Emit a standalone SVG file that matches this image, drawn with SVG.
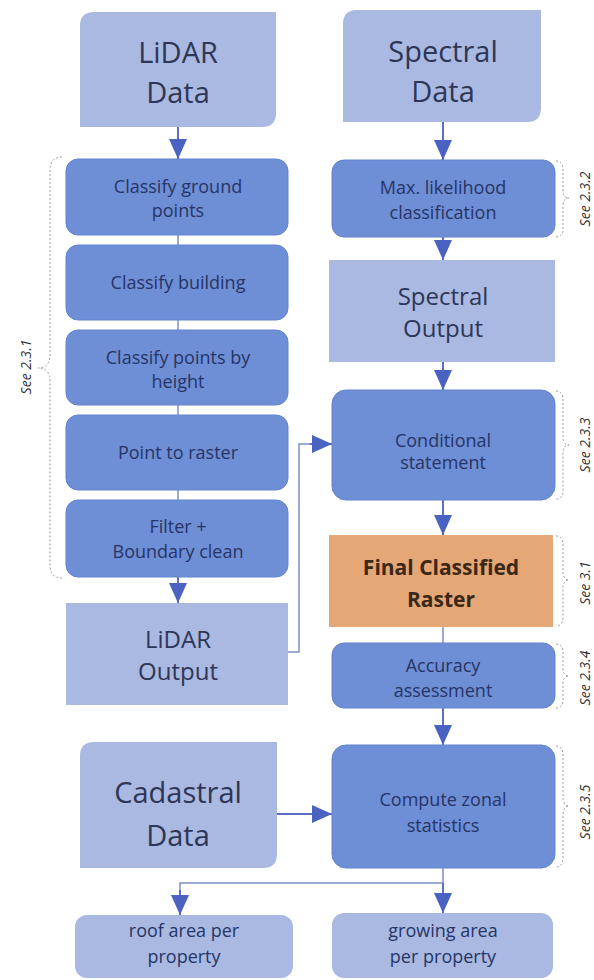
<svg xmlns="http://www.w3.org/2000/svg" width="594" height="980" viewBox="0 0 594 980">
<defs>
<marker id="ah" viewBox="0 0 20 18" refX="20" refY="9" markerWidth="20" markerHeight="18" markerUnits="userSpaceOnUse" orient="auto">
<path d="M0,0 L20,9 L0,18 Z" fill="#4a62c2"/>
</marker>
<style>
.light{fill:#a9b9e2;}
.mid{fill:#6e8ed6;stroke:#6384d0;stroke-width:1;}
.orange{fill:#e6a776;}
.big{font-family:"Open Sans","Noto Sans",sans-serif;font-size:29px;fill:#2e3656;text-anchor:middle;}
.med{font-family:"Open Sans","Noto Sans",sans-serif;font-size:24px;fill:#2e3656;text-anchor:middle;}
.sm{font-family:"Open Sans","Noto Sans",sans-serif;font-size:18px;fill:#263566;text-anchor:middle;}
.bold{font-family:"Open Sans","Noto Sans",sans-serif;font-size:21px;font-weight:bold;fill:#3a2818;text-anchor:middle;}
.see{font-family:"Open Sans","Noto Sans",sans-serif;font-size:14px;font-style:italic;fill:#333;text-anchor:middle;}
.arrow{fill:none;stroke:#5b6fc2;stroke-width:2;marker-end:url(#ah);}
.link{fill:none;stroke:#7d8fc8;stroke-width:1.5;}
.brace{fill:none;stroke:#9a9a9a;stroke-width:1;stroke-dasharray:2 2;}
</style>
</defs>
<rect width="594" height="980" fill="#ffffff"/>

<g id="connectors">
<line class="arrow" x1="178" y1="127" x2="178" y2="159"/>
<line class="link" x1="178" y1="235" x2="178" y2="245"/>
<line class="link" x1="178" y1="320" x2="178" y2="330"/>
<line class="link" x1="178" y1="405" x2="178" y2="415"/>
<line class="link" x1="178" y1="490" x2="178" y2="500"/>
<line class="arrow" x1="178" y1="577" x2="178" y2="603"/>
<line class="arrow" x1="443" y1="122" x2="443" y2="160"/>
<line class="arrow" x1="443" y1="237" x2="443" y2="260"/>
<line class="arrow" x1="443" y1="362" x2="443" y2="390"/>
<line class="arrow" x1="443" y1="500" x2="443" y2="535"/>
<line class="link" x1="443" y1="627" x2="443" y2="643"/>
<line class="arrow" x1="443" y1="708" x2="443" y2="745"/>
<path class="link" d="M288 652 H299 V444 H318"/>
<line class="arrow" x1="310" y1="444" x2="332" y2="444"/>
<line class="arrow" x1="277" y1="814" x2="332" y2="814"/>
<path class="link" d="M443 868 V883 H180 V900"/>
<line class="arrow" x1="180" y1="890" x2="180" y2="915"/>
<line class="arrow" x1="443" y1="883" x2="443" y2="913"/>
</g>

<g id="lidar-data">
<path class="light" d="M94 12 H276 V113 Q276 127 262 127 H80 V26 Q80 12 94 12 Z"/>
<text class="big" x="178" y="63">LiDAR</text>
<text class="big" x="178" y="103">Data</text>
</g>

<g id="spectral-data">
<path class="light" d="M357 10 H541 V108 Q541 122 527 122 H343 V24 Q343 10 357 10 Z"/>
<text class="big" x="443" y="62">Spectral</text>
<text class="big" x="443" y="102">Data</text>
</g>

<g id="classify-ground">
<rect class="mid" x="66" y="159" width="222" height="76" rx="12"/>
<text class="sm" x="178" y="193">Classify ground</text>
<text class="sm" x="178" y="217">points</text>
</g>
<g id="classify-building">
<rect class="mid" x="66" y="245" width="222" height="75" rx="12"/>
<text class="sm" x="178" y="289">Classify building</text>
</g>
<g id="classify-height">
<rect class="mid" x="66" y="330" width="222" height="75" rx="12"/>
<text class="sm" x="178" y="364">Classify points by</text>
<text class="sm" x="178" y="388">height</text>
</g>
<g id="point-raster">
<rect class="mid" x="66" y="415" width="222" height="75" rx="12"/>
<text class="sm" x="178" y="459">Point to raster</text>
</g>
<g id="filter">
<rect class="mid" x="66" y="500" width="222" height="77" rx="12"/>
<text class="sm" x="178" y="533">Filter +</text>
<text class="sm" x="178" y="558">Boundary clean</text>
</g>
<g id="lidar-output">
<rect class="light" x="66" y="603" width="222" height="102"/>
<text class="med" x="178" y="648">LiDAR</text>
<text class="med" x="178" y="680">Output</text>
</g>

<g id="max-likelihood">
<rect class="mid" x="332" y="160" width="223" height="77" rx="12"/>
<text class="sm" x="443" y="194">Max. likelihood</text>
<text class="sm" x="443" y="219">classification</text>
</g>
<g id="spectral-output">
<rect class="light" x="329" y="260" width="226" height="102"/>
<text class="med" x="443" y="305">Spectral</text>
<text class="med" x="443" y="337">Output</text>
</g>
<g id="conditional">
<rect class="mid" x="332" y="390" width="223" height="110" rx="14"/>
<text class="sm" x="443" y="447">Conditional</text>
<text class="sm" x="443" y="469">statement</text>
</g>
<g id="final-raster">
<rect class="orange" x="329" y="535" width="224" height="92"/>
<text class="bold" x="441" y="575">Final Classified</text>
<text class="bold" x="441" y="607">Raster</text>
</g>
<g id="accuracy">
<rect class="mid" x="332" y="643" width="223" height="65" rx="12"/>
<text class="sm" x="443" y="672">Accuracy</text>
<text class="sm" x="443" y="697">assessment</text>
</g>

<g id="cadastral-data">
<path class="light" d="M94 742 H277 V854 Q277 868 263 868 H80 V756 Q80 742 94 742 Z"/>
<text class="big" x="178" y="803">Cadastral</text>
<text class="big" x="178" y="846">Data</text>
</g>
<g id="zonal-stats">
<rect class="mid" x="332" y="745" width="223" height="123" rx="14"/>
<text class="sm" x="443" y="806">Compute zonal</text>
<text class="sm" x="443" y="832">statistics</text>
</g>

<g id="roof-area">
<rect class="light" x="75" y="915" width="218" height="63" rx="12"/>
<text class="sm" x="184" y="937">roof area per</text>
<text class="sm" x="184" y="963">property</text>
</g>
<g id="growing-area">
<rect class="light" x="332" y="913" width="221" height="65" rx="12"/>
<text class="sm" x="443" y="937">growing area</text>
<text class="sm" x="443" y="963">per property</text>
</g>

<g id="annotations">
<path class="brace" d="M62 157 Q50 157 50 170 V355 Q50 368 38 368 Q50 368 50 381 V565 Q50 578 62 578"/>
<text class="see" transform="translate(31 367) rotate(-90)">See 2.3.1</text>
<path class="brace" d="M556 161 Q563 161 563 169 V190 Q563 198 569 198 Q563 198 563 206 V229 Q563 237 556 237"/>
<text class="see" transform="translate(590 199) rotate(-90)">See 2.3.2</text>
<path class="brace" d="M556 391 Q563 391 563 400 V436 Q563 445 569 445 Q563 445 563 454 V490 Q563 499 556 499"/>
<text class="see" transform="translate(590 445) rotate(-90)">See 2.3.3</text>
<path class="brace" d="M556 536 Q563 536 563 545 V571 Q563 580 569 580 Q563 580 563 589 V617 Q563 626 556 626"/>
<text class="see" transform="translate(590 583) rotate(-90)">See 3.1</text>
<path class="brace" d="M556 644 Q563 644 563 652 V668 Q563 676 569 676 Q563 676 563 684 V700 Q563 708 556 708"/>
<text class="see" transform="translate(590 678) rotate(-90)">See 2.3.4</text>
<path class="brace" d="M556 746 Q563 746 563 756 V796 Q563 806 569 806 Q563 806 563 816 V857 Q563 867 556 867"/>
<text class="see" transform="translate(590 812) rotate(-90)">See 2.3.5</text>
</g>
</svg>
